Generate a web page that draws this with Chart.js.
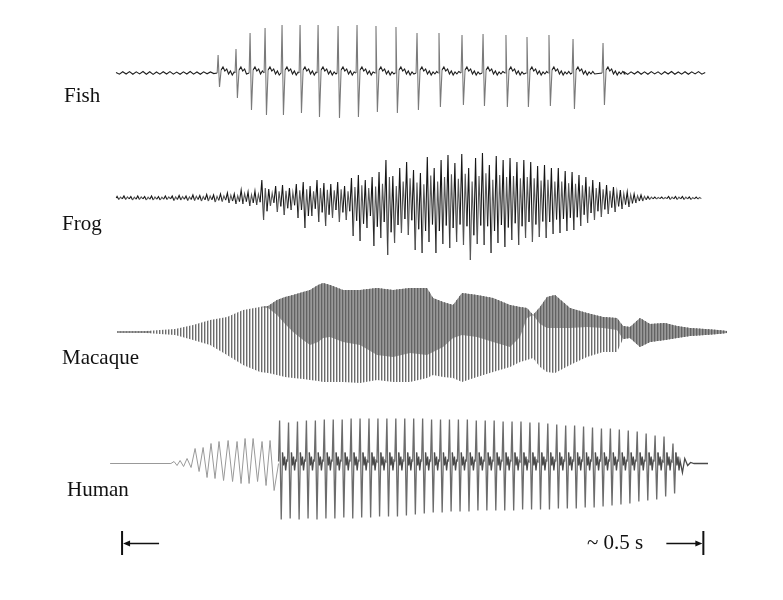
<!DOCTYPE html>
<html>
<head>
<meta charset="utf-8">
<title>Call waveforms: fish, frog, macaque, human</title>
<script src="https://cdn.jsdelivr.net/npm/chart.js@4.4.1/dist/chart.umd.min.js"></script>
<style>
  html, body { margin: 0; padding: 0; background: #fff; }
  #wrap { position: relative; width: 783px; height: 600px; }
  #calls { position: absolute; left: 0; top: 0; }
  .lbl {
    position: absolute;
    font-family: "Liberation Serif", "Times New Roman", serif;
    font-size: 21px;
    line-height: 21px;
    color: #111;
    white-space: nowrap;
  }
</style>
</head>
<body>
<div id="wrap">
  <canvas id="calls" width="783" height="600"></canvas>
  <div class="lbl" style="left:64px;top:85px">Fish</div>
  <div class="lbl" style="left:62px;top:213px">Frog</div>
  <div class="lbl" style="left:62px;top:347px">Macaque</div>
  <div class="lbl" style="left:67px;top:479px">Human</div>
  <div class="lbl" style="left:587px;top:532px">~ 0.5 s</div>
</div>
<script>
// time in ms; the bar under the traces spans 500 ms
const scaleBarMs = [0, 500];

// fish: pulse times, upward / downward peak of each pulse
const fishPulseMs = [82.6, 98.0, 110.1, 123.0, 137.6, 153.1, 168.6, 185.8, 202.1, 218.4,
  235.6, 253.7, 272.6, 292.4, 310.5, 330.2, 348.3, 367.2, 387.9, 413.7];
const fishPulseUp = [18, 24, 40, 45, 48, 48, 48, 47, 48, 47, 46, 40, 40, 38, 39, 38, 36, 38, 34, 30];
const fishPulseDown = [14, 25, 37, 42, 42, 40, 44, 45, 44, 39, 40, 37, 34, 32, 33, 34, 34, 33, 36, 32];
const fishRing = [3, 6, 2, 4, -1, 2, -2, 1, -1, 1.5, -1];
const fishHumBefore = [0.5, -1.2, 1.3, -1.0, 1.4, -1.3, 1.1, -0.9, 1.5, -1.2, 1.2, -1.4, 1.0, -1.1, 1.3,
  -1.0, 1.4, -1.2, 0.9, -1.3, 1.2, -1.0, 1.5, -1.1, 1.0, -1.3, 1.2, -0.8, 1.1, -0.6];
const fishHumAfter = [1.0, -1.4, 1.2, -1.0, 1.5, -1.2, 1.1, -1.3, 1.4, -0.9, 1.2, -1.4, 1.3,
  -1.0, 1.5, -1.2, 1.0, -1.1, 1.3, -1.3, 1.2, -0.9, 1.4, -1.2, 0.6];

// frog: main up / down swing per cycle, plus a smaller second swing
const frogStartMs = -4.3;
const frogCycleMs = 5.93;
const frogSecondary = [0.55, 0.6];
const frogUp = [1.5, 2, 1.5, 2, 1.5, 2, 1.5, 2, 2, 2.5,
  2, 3, 2.5, 3.5, 3, 4, 5, 4, 8, 6,
  7, 18, 9, 12, 13, 10, 14, 16, 12, 18,
  15, 14, 16, 12, 20, 23, 18, 21, 26, 38,
  22, 30, 36, 28, 25, 41, 30, 38, 43, 35,
  44, 30, 40, 45, 33, 42, 38, 40, 36, 38,
  36, 32, 33, 30, 30, 27, 26, 23, 21, 18,
  16, 13, 11, 8, 6, 4, 3, 1.5, 1, 1,
  1.5, 1.5, 1.5, 1, 1];
const frogDown = [1.5, 1.5, 2, 1.5, 2, 2, 2, 1.5, 2.5, 2,
  2.5, 2.5, 3, 3, 4, 3.5, 5, 6, 6, 8,
  7, 22, 8, 14, 17, 12, 20, 30, 18, 24,
  28, 20, 24, 22, 38, 43, 30, 48, 40, 57,
  45, 35, 37, 52, 55, 44, 55, 46, 50, 44,
  47, 62, 46, 47, 55, 45, 49, 42, 47, 40,
  44, 39, 40, 36, 35, 33, 32, 28, 25, 22,
  19, 16, 14, 11, 9, 5, 3, 1.5, 1, 1,
  1.5, 1.5, 1.5, 1.5, 1];

// macaque: envelope of a dense call; "inner" is the lower edge of the overlapping (darker) band
const macMs = [-4.3, 18.1, 32.7, 45.6, 61.1, 75.7, 90.3, 104.1, 118.7, 125.6,
  133.3, 140.2, 147.1, 155.7, 161.7, 168.6, 172.9, 178.9, 190.1,
  204.7, 219.3, 233.1, 247.7, 262.3, 267.5, 276.1, 284.7, 292.4, 305.3,
  319.1, 333.7, 342.3, 348.3, 353.5, 359.5, 365.5, 372.4, 385.3, 399.9,
  413.7, 425.7, 430.9, 436.9, 445.5, 454.1, 467.0, 477.3, 488.5, 501.4,
  512.6, 520.3];
const macUp = [0.5, 0.8, 2, 3, 7, 12, 15, 22, 25, 26,
  32, 35, 37, 40, 42, 47, 49, 47, 42,
  42, 44, 42, 44, 44, 34, 30, 27, 39, 37,
  34, 27, 25, 24, 17, 25, 35, 37, 24, 19,
  15, 14, 6, 5, 14, 8, 9, 6, 4, 3,
  2, 1];
const macInner = [0.5, 0.8, 2, 3, 7, 12, 15, 22, 25, 24,
  17, 8, 0, -8, -13, -10, -6, -5, -10,
  -13, -23, -25, -21, -23, -20, -15, -6, -3, -5,
  -10, -15, -5, 14, 17, 8, 4, 4, 4, 5,
  4, 2, -7, -6, -15, -10, -8, -6, -4, -3,
  -2, -1];
const macDown = [-0.5, -0.8, -2, -3, -8, -13, -23, -33, -40, -41,
  -43, -45, -46, -47, -48, -49, -50, -50, -50,
  -51, -48, -50, -50, -46, -43, -45, -46, -50, -45,
  -40, -35, -30, -28, -26, -35, -40, -41, -33, -25,
  -20, -20, -7, -6, -15, -10, -8, -6, -4, -3,
  -2, -1];

// human: slow onset cycles, then glottal pulses
const humanSlowMs = [44.7, 49.9, 55.9, 62.8, 69.7, 76.5, 83.4, 91.2, 98.9, 105.8, 112.7, 120.4, 127.3];
const humanSlowUp = [2, 3, 5, 15, 16, 20, 22, 23, 22, 25, 25, 22, 23];
const humanSlowDown = [2, 3, 4, 8, 14, 15, 17, 18, 20, 20, 18, 22, 27];
const humanPulseStartMs = 134.6;
const humanPulseCycleMs = 7.69;
const humanPulseUp = [43, 41, 42, 43, 43, 44, 44, 44, 45, 45,
  45, 45, 45, 45, 45, 45, 45, 44, 44, 44,
  44, 44, 43, 43, 43, 42, 42, 42, 41, 41,
  40, 39, 38, 38, 37, 36, 35, 35, 34, 33,
  32, 30, 28, 27, 20];
const humanPulseDown = [56, 55, 56, 55, 56, 55, 55, 54, 55, 54,
  54, 53, 53, 53, 52, 51, 50, 49, 49, 48,
  48, 48, 47, 47, 47, 47, 47, 46, 46, 46,
  46, 45, 45, 45, 44, 44, 43, 42, 41, 40,
  38, 37, 36, 33, 30];
const humanRing = [11, -2, 7, -7, 3];
const humanTailMs = [482, 484, 486.5, 489, 492, 504];
const humanTail = [-9, 5, -2, 1, 0, 0];

// vertical place of each trace on the shared y scale (0..600)
const BASE = { fish: 527, frog: 402, macaque: 268, human: 136.5 };

function lift(base, pts) {
  return pts.map(p => ({ x: p.x, y: base + p.y }));
}

function fishPoints() {
  const pts = [];
  fishHumBefore.forEach((v, i) => pts.push({ x: -5.2 + i * 2.9, y: v }));
  fishPulseMs.forEach((t, i) => {
    pts.push({ x: t - 0.8, y: 0 });
    pts.push({ x: t, y: fishPulseUp[i] });
    pts.push({ x: t + 1.2, y: -fishPulseDown[i] });
    const next = i < fishPulseMs.length - 1 ? fishPulseMs[i + 1] - 1.5 : Infinity;
    fishRing.forEach((v, k) => {
      const x = t + 2.6 + k * 1.6;
      if (x < next) pts.push({ x, y: v });
    });
  });
  fishHumAfter.forEach((v, i) => pts.push({ x: 432 + i * 2.9, y: v }));
  return lift(BASE.fish, pts);
}

function frogPoints() {
  const pts = [{ x: -5, y: 0 }];
  frogUp.forEach((v, i) => {
    const t = frogStartMs + i * frogCycleMs;
    pts.push({ x: t, y: v });
    pts.push({ x: t + frogCycleMs * 0.25, y: -frogDown[i] });
    pts.push({ x: t + frogCycleMs * 0.5, y: v * frogSecondary[0] });
    pts.push({ x: t + frogCycleMs * 0.75, y: -frogDown[i] * frogSecondary[1] });
  });
  return lift(BASE.frog, pts);
}

function envelope(vals) {
  return lift(BASE.macaque, macMs.map((t, i) => ({ x: t, y: vals[i] })));
}

function humanSlowPoints() {
  const pts = [{ x: -10.3, y: 0 }, { x: 42, y: 0 }];
  humanSlowMs.forEach((t, i) => {
    const gap = i < humanSlowMs.length - 1 ? humanSlowMs[i + 1] - t : 7;
    pts.push({ x: t, y: humanSlowUp[i] });
    pts.push({ x: t + gap / 2, y: -humanSlowDown[i] });
  });
  pts.push({ x: humanPulseStartMs, y: 0 });
  return lift(BASE.human, pts);
}

function humanPulsePoints() {
  const pts = [];
  humanPulseUp.forEach((v, i) => {
    const t = humanPulseStartMs + i * humanPulseCycleMs;
    pts.push({ x: t, y: 2 });
    pts.push({ x: t + 0.9, y: v });
    pts.push({ x: t + 2.3, y: -humanPulseDown[i] });
    humanRing.forEach((r, k) => pts.push({ x: t + 3.4 + k * 0.9, y: r }));
  });
  humanTailMs.forEach((t, i) => pts.push({ x: t, y: humanTail[i] }));
  return lift(BASE.human, pts);
}

function stripes(colors) {
  const c = document.createElement("canvas");
  c.width = colors.length;
  c.height = 1;
  const g = c.getContext("2d");
  colors.forEach((col, i) => {
    g.fillStyle = col;
    g.fillRect(i, 0, 1, 1);
  });
  return g.createPattern(c, "repeat");
}

const lightStripes = stripes(["rgba(100,100,100,0.95)", "rgba(155,155,155,0.6)", "rgba(255,255,255,0)"]);
const darkStripes = stripes(["rgba(45,45,45,0.92)", "rgba(80,80,80,0.82)", "rgba(110,110,110,0.7)"]);

function byStep(limit, big, small) {
  return ctx => (Math.abs(ctx.p1.parsed.y - ctx.p0.parsed.y) > limit ? big : small);
}

// frog: main strokes dark, the second swing of each cycle lighter
function frogShade(ctx) {
  const k = ctx.p0DataIndex % 4;
  return k === 2 || k === 3 ? "#585858" : "#161616";
}

const scaleBar = {
  id: "scaleBar",
  afterDraw(chart) {
    const ctx = chart.ctx;
    const x0 = chart.scales.x.getPixelForValue(scaleBarMs[0]);
    const x1 = chart.scales.x.getPixelForValue(scaleBarMs[1]);
    const y = 543.5;
    ctx.save();
    ctx.strokeStyle = "#111";
    ctx.fillStyle = "#111";
    ctx.lineWidth = 2;
    ctx.beginPath();
    ctx.moveTo(x0, 531);
    ctx.lineTo(x0, 555);
    ctx.moveTo(x1, 531);
    ctx.lineTo(x1, 555);
    ctx.stroke();
    ctx.lineWidth = 1.5;
    ctx.beginPath();
    ctx.moveTo(x0 + 6, y);
    ctx.lineTo(x0 + 37, y);
    ctx.moveTo(x1 - 37, y);
    ctx.lineTo(x1 - 6, y);
    ctx.stroke();
    ctx.beginPath();
    ctx.moveTo(x0 + 1, y);
    ctx.lineTo(x0 + 8, y - 3);
    ctx.lineTo(x0 + 8, y + 3);
    ctx.closePath();
    ctx.moveTo(x1 - 1, y);
    ctx.lineTo(x1 - 8, y - 3);
    ctx.lineTo(x1 - 8, y + 3);
    ctx.closePath();
    ctx.fill();
    ctx.restore();
  }
};

new Chart(document.getElementById("calls"), {
  type: "line",
  data: {
    datasets: [
      {
        label: "Fish",
        data: fishPoints(),
        borderWidth: 1.1,
        segment: { borderColor: byStep(9, "#7a7a7a", "#1e1e1e") }
      },
      {
        label: "Frog",
        data: frogPoints(),
        borderWidth: 1.1,
        segment: { borderColor: frogShade }
      },
      {
        label: "Macaque low",
        data: envelope(macDown),
        borderColor: "rgba(0,0,0,0)",
        borderWidth: 0,
        fill: false
      },
      {
        label: "Macaque high",
        data: envelope(macUp),
        borderColor: "rgba(0,0,0,0)",
        borderWidth: 0,
        backgroundColor: lightStripes,
        fill: "-1"
      },
      {
        label: "Macaque overlap",
        data: envelope(macInner),
        borderColor: "rgba(0,0,0,0)",
        borderWidth: 0,
        backgroundColor: darkStripes,
        fill: "-1"
      },
      {
        label: "Macaque lead",
        data: lift(BASE.macaque, [{ x: -4.3, y: 0 }, { x: 24, y: 0 }]),
        borderColor: "#333",
        borderWidth: 1
      },
      {
        label: "Human onset",
        data: humanSlowPoints(),
        borderColor: "#999999",
        borderWidth: 1
      },
      {
        label: "Human",
        data: humanPulsePoints(),
        borderWidth: 1.3,
        segment: { borderColor: byStep(14, "#6c6c6c", "#4a4a4a") }
      }
    ]
  },
  options: {
    responsive: false,
    animation: false,
    events: [],
    layout: { padding: 0 },
    elements: {
      point: { radius: 0 },
      line: { tension: 0 }
    },
    plugins: {
      legend: { display: false },
      tooltip: { enabled: false }
    },
    scales: {
      x: { type: "linear", min: -105, max: 568.5, display: false },
      y: { type: "linear", min: 0, max: 600, display: false }
    }
  },
  plugins: [scaleBar]
});
</script>
</body>
</html>
